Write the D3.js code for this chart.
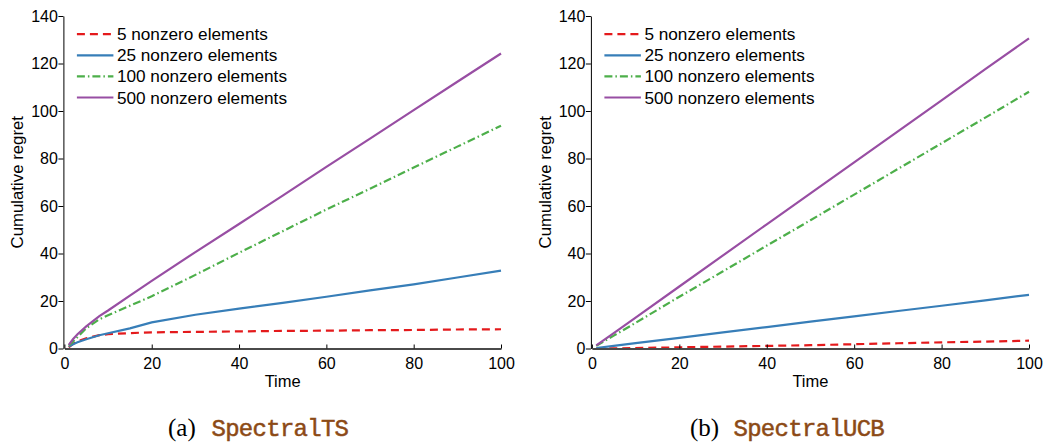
<!DOCTYPE html>
<html>
<head>
<meta charset="utf-8">
<script src="https://cdn.jsdelivr.net/npm/d3@7"></script>
<style>
  body { margin: 0; background: #fff; }
  svg { display: block; }
</style>
</head>
<body>
<div id="chart"></div>
<script>
// Cumulative regret vs time, two panels (SpectralTS / SpectralUCB)
const seriesNames = ['5 nonzero elements', '25 nonzero elements', '100 nonzero elements', '500 nonzero elements'];
const seriesColors = ['#e41a1c', '#377eb8', '#4daf4a', '#984ea3'];
const seriesDash = ['8,5', null, '8,3,1.5,3', null];
const xTicks = [0, 20, 40, 60, 80, 100];
const yTicks = [0, 20, 40, 60, 80, 100, 120, 140];

// panel (a) SpectralTS
const tsTime = [1, 2, 3, 5, 8, 10, 15, 20, 30, 40, 50, 60, 70, 80, 90, 100];
const ts5   = [0.5, 2.0, 3.0, 4.3, 5.6, 6.0, 6.5, 6.8, 7.0, 7.2, 7.4, 7.5, 7.7, 7.8, 8.0, 8.1];
const ts25  = [0.8, 1.8, 2.6, 3.9, 5.6, 6.4, 8.5, 11.0, 14.2, 16.8, 19.2, 21.8, 24.5, 27.0, 29.9, 32.8];
const ts100 = [1.2, 3.0, 4.8, 8.5, 12.3, 14.0, 18.0, 22.0, 31.0, 40.3, 49.4, 58.5, 67.3, 76.2, 85.0, 93.8];
const ts500 = [1.5, 4.0, 6.0, 9.3, 13.6, 16.0, 22.3, 28.5, 40.6, 52.4, 64.4, 76.5, 88.4, 100.4, 112.3, 124.2];

// panel (b) SpectralUCB
const ucbTime = [1, 5, 10, 20, 30, 40, 50, 60, 70, 80, 90, 100];
const ucb5   = [0.0, 0.05, 0.2, 0.5, 0.8, 1.1, 1.4, 1.8, 2.2, 2.6, 2.9, 3.3];
const ucb25  = [0.2, 1.1, 2.3, 4.5, 6.8, 9.0, 11.3, 13.5, 15.8, 18.0, 20.3, 22.6];
const ucb100 = [1.1, 5.4, 10.8, 21.8, 32.5, 43.3, 54.0, 64.8, 75.6, 86.4, 97.2, 108.1];
const ucb500 = [1.3, 6.5, 13.0, 26.1, 39.2, 52.3, 65.3, 78.4, 91.4, 104.5, 117.6, 130.6];

const panels = [
    { left: 64.4, right: 501, label: '(a)', name: 'SpectralTS', labelX: 168, nameX: 211.5,
      time: tsTime, series: [ts5, ts25, ts100, ts500] },
    { left: 591.9, right: 1029, label: '(b)', name: 'SpectralUCB', labelX: 690, nameX: 733.5,
      time: ucbTime, series: [ucb5, ucb25, ucb100, ucb500] }
];

const W = 1047, H = 442;
const yTop = 16, yBottom = 348.5;
const sans = "'Liberation Sans', Arial, Helvetica, sans-serif";

const svg = d3.select('#chart').append('svg')
    .attr('width', W)
    .attr('height', H);

panels.forEach(p => {
    const x = d3.scaleLinear().domain([0, 100]).range([p.left, p.right]);
    const y = d3.scaleLinear().domain([0, 140]).range([yBottom, yTop]);
    const g = svg.append('g');

    // lines
    const line = d3.line().x(d => x(d[0])).y(d => y(d[1]));
    p.series.forEach((vals, i) => {
        g.append('path')
            .datum(p.time.map((t, k) => [t, vals[k]]))
            .attr('d', line)
            .attr('fill', 'none')
            .attr('stroke', seriesColors[i])
            .attr('stroke-width', 2.2)
            .attr('stroke-dasharray', seriesDash[i]);
    });

    // x axis: ticks pointing up into the plot
    const xAxis = g.append('g')
        .attr('transform', `translate(0,${yBottom})`)
        .call(d3.axisBottom(x).tickValues(xTicks).tickSize(-4).tickPadding(9).tickSizeOuter(0));
    xAxis.select('.domain').attr('stroke', '#4a4a4a').attr('stroke-width', 1.8);
    xAxis.selectAll('.tick line').attr('stroke', '#000');
    xAxis.selectAll('text').attr('font-family', sans).attr('font-size', 16).attr('fill', '#000');

    // y axis: ticks outward
    const yAxis = g.append('g')
        .attr('transform', `translate(${p.left - 1},0)`)
        .call(d3.axisLeft(y).tickValues(yTicks).tickSize(5).tickPadding(0.5).tickSizeOuter(0));
    yAxis.select('.domain').attr('stroke', '#000');
    yAxis.selectAll('text').attr('font-family', sans).attr('font-size', 16).attr('fill', '#000');

    // axis titles
    g.append('text')
        .attr('x', (p.left + p.right) / 2)
        .attr('y', 387)
        .attr('text-anchor', 'middle')
        .attr('font-family', sans)
        .attr('font-size', 16.5)
        .text('Time');

    g.append('text')
        .attr('transform', `translate(${p.left - 41},${(yTop + yBottom) / 2}) rotate(-90)`)
        .attr('text-anchor', 'middle')
        .attr('font-family', sans)
        .attr('font-size', 16.8)
        .text('Cumulative regret');

    // legend
    const lg = g.append('g').attr('transform', `translate(${p.left + 12.5},0)`);
    seriesNames.forEach((name, i) => {
        const cy = 34.2 + i * 21.1;
        lg.append('line')
            .attr('x1', 0).attr('x2', 36.5)
            .attr('y1', cy).attr('y2', cy)
            .attr('stroke', seriesColors[i])
            .attr('stroke-width', 2.2)
            .attr('stroke-dasharray', seriesDash[i]);
        lg.append('text')
            .attr('x', 40)
            .attr('y', cy + 6)
            .attr('font-family', sans)
            .attr('font-size', 17.2)
            .text(name);
    });

    // caption
    g.append('text')
        .attr('x', p.labelX)
        .attr('y', 436)
        .attr('font-family', "'Liberation Serif', 'Times New Roman', serif")
        .attr('font-size', 25)
        .text(p.label);
    g.append('text')
        .attr('x', p.nameX)
        .attr('y', 436)
        .attr('font-family', "'Liberation Mono', 'Courier New', monospace")
        .attr('font-size', 24)
        .attr('fill', '#8c4a16')
        .attr('stroke', '#8c4a16')
        .attr('stroke-width', 0.5)
        .attr('textLength', p.name.length * 13.75)
        .text(p.name);
});
</script>
</body>
</html>
